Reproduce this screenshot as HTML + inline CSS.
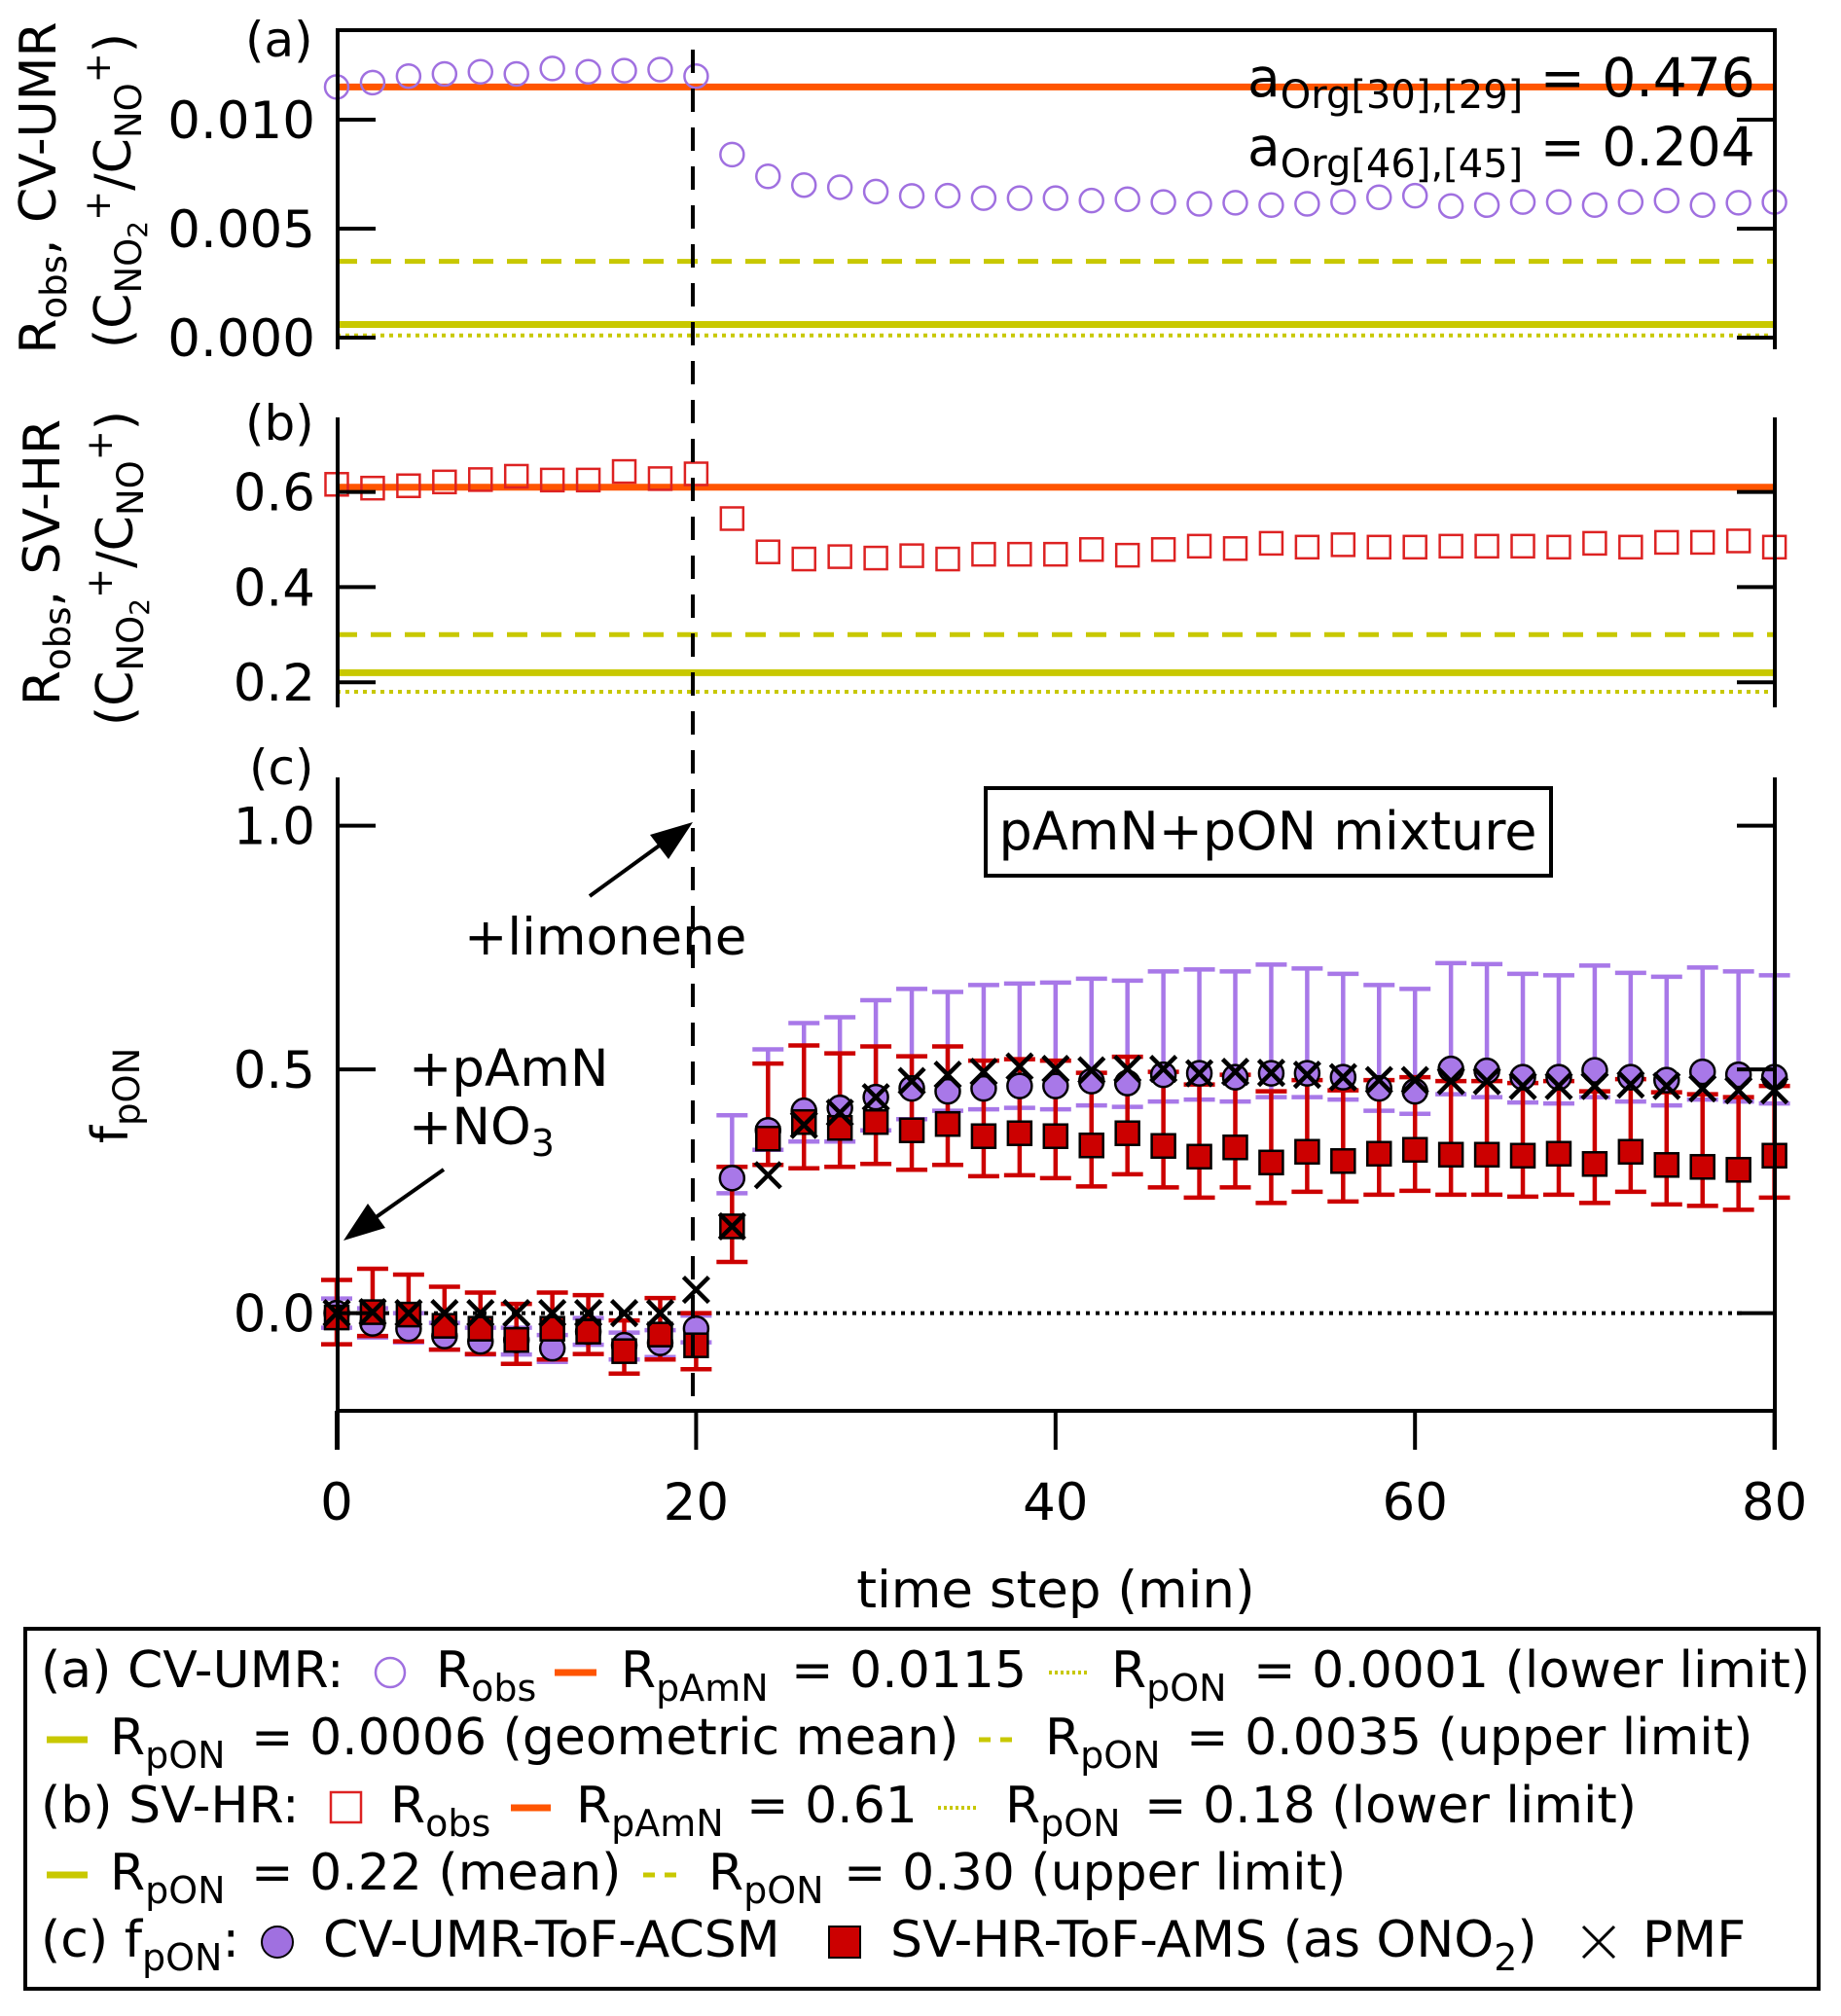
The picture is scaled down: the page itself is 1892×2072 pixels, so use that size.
<!DOCTYPE html>
<html><head><meta charset="utf-8"><style>
html,body{margin:0;padding:0;background:#fff}
svg{display:block}
text{font-family:"DejaVu Sans","Liberation Sans",sans-serif;fill:#000}
</style></head><body>
<svg id="chart" xmlns="http://www.w3.org/2000/svg" width="1892" height="2072" viewBox="0 0 1892 2072">
<rect x="0" y="0" width="1892" height="2072" fill="#fff"/>
<g id="panelA"></g>
<g id="panelB"></g>
<g id="panelC"></g>

<g stroke="#000" stroke-width="4" fill="none">
  <path d="M347 359 V31 H1824 V359"/>
  <path d="M347 429 V727"/>
  <path d="M1824 429 V727"/>
  <path d="M347 799 V1490"/>
  <path d="M1824 799 V1490"/>
  <path d="M347 1450 H1824"/>
</g>
<line x1="712" y1="51" x2="712" y2="1450" stroke="#000" stroke-width="4" stroke-dasharray="24 16"/>
<g id="ticks"></g>

<text x="252" y="58" font-size="50">(a)</text>
<text x="252" y="452" font-size="50">(b)</text>
<text x="256" y="806" font-size="50">(c)</text>

<g font-size="52">
  <text transform="translate(57,193) rotate(-90)" text-anchor="middle">R<tspan font-size="37" dy="11">obs</tspan><tspan dy="-11">,  CV-UMR</tspan></text>
  <text transform="translate(134,196) rotate(-90)" text-anchor="middle">(C<tspan font-size="37" dy="11">NO</tspan><tspan font-size="28" dy="6">2</tspan><tspan font-size="37" dy="-38">+</tspan><tspan dy="21">/C</tspan><tspan font-size="37" dy="11">NO</tspan><tspan font-size="37" dy="-32">+</tspan><tspan dy="21">)</tspan></text>
</g>
<g font-size="52">
  <text transform="translate(61,578) rotate(-90)" text-anchor="middle">R<tspan font-size="37" dy="11">obs</tspan><tspan dy="-11">,  SV-HR</tspan></text>
  <text transform="translate(136,584) rotate(-90)" text-anchor="middle">(C<tspan font-size="37" dy="11">NO</tspan><tspan font-size="28" dy="6">2</tspan><tspan font-size="37" dy="-38">+</tspan><tspan dy="21">/C</tspan><tspan font-size="37" dy="11">NO</tspan><tspan font-size="37" dy="-32">+</tspan><tspan dy="21">)</tspan></text>
</g>
<text transform="translate(131,1126) rotate(-90)" text-anchor="middle" font-size="52">f<tspan font-size="37" dy="12">pON</tspan></text>

<text x="1085" y="1652" text-anchor="middle" font-size="53">time step (min)</text>

<g>
  <text x="1282" y="99" font-size="55">a<tspan font-size="40" dy="12">Org[30],[29]</tspan><tspan dy="-12"> = 0.476</tspan></text>
  <text x="1282" y="170" font-size="55">a<tspan font-size="40" dy="12">Org[46],[45]</tspan><tspan dy="-12"> = 0.204</tspan></text>
</g>

<g>
  <rect x="1013" y="810" width="581" height="90" fill="#fff" stroke="#000" stroke-width="4"/>
  <text x="1303" y="873" text-anchor="middle" font-size="54">pAmN+pON mixture</text>
</g>

<g>
  <text x="477" y="981" font-size="53">+limonene</text>
  <line x1="606" y1="921" x2="690" y2="860" stroke="#000" stroke-width="4"/>
  <polygon points="712,845 668,858 687,883" fill="#000"/>
</g>
<g>
  <text x="420" y="1116" font-size="53">+pAmN</text>
  <text x="420" y="1176" font-size="53">+NO<tspan font-size="38" dy="12">3</tspan></text>
  <line x1="456" y1="1202" x2="375" y2="1259" stroke="#000" stroke-width="4"/>
  <polygon points="353,1275 396,1262 378,1237" fill="#000"/>
</g>

<g>
  <rect x="26" y="1674" width="1843" height="370" fill="none" stroke="#000" stroke-width="4"/>
  <g font-size="52">
    <text x="42" y="1734">(a) CV-UMR:</text>
    <circle cx="401" cy="1719" r="15" fill="none" stroke="#a070e0" stroke-width="2.5"/>
    <text x="448" y="1734">R<tspan font-size="38" dy="14">obs</tspan></text>
    <line x1="570" y1="1719" x2="613" y2="1719" stroke="#ff5500" stroke-width="7"/>
    <text x="638" y="1734">R<tspan font-size="38" dy="14">pAmN</tspan></text>
    <text x="813" y="1734">= 0.0115</text>
    <line x1="1078" y1="1719" x2="1120" y2="1719" stroke="#c8c800" stroke-width="4" stroke-dasharray="3 3"/>
    <text x="1142" y="1734">R<tspan font-size="38" dy="14">pON</tspan></text>
    <text x="1288" y="1734">= 0.0001 (lower limit)</text>

    <line x1="48" y1="1788" x2="90" y2="1788" stroke="#c8c800" stroke-width="7"/>
    <text x="113" y="1803">R<tspan font-size="38" dy="14">pON</tspan></text>
    <text x="258" y="1803">= 0.0006 (geometric mean)</text>
    <line x1="1006" y1="1788" x2="1049" y2="1788" stroke="#c8c800" stroke-width="5" stroke-dasharray="12 10"/>
    <text x="1074" y="1803">R<tspan font-size="38" dy="14">pON</tspan></text>
    <text x="1219" y="1803">= 0.0035 (upper limit)</text>

    <text x="42" y="1873">(b) SV-HR:</text>
    <rect x="340" y="1842" width="31" height="31" fill="none" stroke="#dd2222" stroke-width="2.5"/>
    <text x="401" y="1873">R<tspan font-size="38" dy="14">obs</tspan></text>
    <line x1="525" y1="1858" x2="566" y2="1858" stroke="#ff5500" stroke-width="7"/>
    <text x="592" y="1873">R<tspan font-size="38" dy="14">pAmN</tspan></text>
    <text x="767" y="1873">= 0.61</text>
    <line x1="964" y1="1858" x2="1006" y2="1858" stroke="#c8c800" stroke-width="4" stroke-dasharray="3 3"/>
    <text x="1033" y="1873">R<tspan font-size="38" dy="14">pON</tspan></text>
    <text x="1176" y="1873">= 0.18 (lower limit)</text>

    <line x1="48" y1="1927" x2="90" y2="1927" stroke="#c8c800" stroke-width="7"/>
    <text x="113" y="1942">R<tspan font-size="38" dy="14">pON</tspan></text>
    <text x="258" y="1942">= 0.22 (mean)</text>
    <line x1="661" y1="1927" x2="703" y2="1927" stroke="#c8c800" stroke-width="5" stroke-dasharray="12 10"/>
    <text x="728" y="1942">R<tspan font-size="38" dy="14">pON</tspan></text>
    <text x="867" y="1942">= 0.30 (upper limit)</text>

    <text x="42" y="2011">(c) f<tspan font-size="38" dy="14">pON</tspan><tspan dy="-14">:</tspan></text>
    <circle cx="285" cy="1996" r="16" fill="#a070e0" stroke="#000" stroke-width="2"/>
    <text x="332" y="2011">CV-UMR-ToF-ACSM</text>
    <rect x="852" y="1980" width="32" height="32" fill="#cc0000" stroke="#000" stroke-width="2"/>
    <text x="915" y="2011">SV-HR-ToF-AMS (as ONO<tspan font-size="38" dy="14">2</tspan><tspan dy="-14">)</tspan></text>
    <path d="M1627 1980 L1659 2012 M1627 2012 L1659 1980" stroke="#000" stroke-width="3" fill="none"/>
    <text x="1688" y="2011">PMF</text>
  </g>
</g>
</svg>
<script>
const times = [0,2,4,6,8,10,12,14,16,18,20,22,24,26,28,30,32,34,36,38,40,42,44,46,48,50,52,54,56,58,60,62,64,66,68,70,72,74,76,78,80];
const cvObs = [0.0115,0.0117,0.0120,0.0121,0.0122,0.0121,0.01235,0.0122,0.01225,0.0123,0.0120,0.0084,0.0074,0.0070,0.0069,0.0067,0.0065,0.00651,0.0064,0.0064,0.0064,0.00629,0.00635,0.00622,0.00614,0.00619,0.00608,0.00614,0.00622,0.00644,0.00651,0.00604,0.00608,0.00622,0.00622,0.00608,0.00622,0.00629,0.00608,0.00619,0.00622];
const svObs = [0.616,0.608,0.613,0.621,0.626,0.633,0.625,0.625,0.643,0.628,0.638,0.544,0.474,0.459,0.464,0.461,0.466,0.459,0.469,0.469,0.469,0.479,0.467,0.479,0.486,0.481,0.492,0.484,0.489,0.484,0.484,0.486,0.486,0.486,0.484,0.492,0.484,0.494,0.494,0.497,0.484];
const cvRefs = [0.0115,0.0006,0.0035,0.0001];
const svRefs = [0.61,0.22,0.30,0.18];
const cvF = [0,-0.021,-0.032,-0.047,-0.058,-0.055,-0.072,-0.038,-0.066,-0.061,-0.032,0.277,0.375,0.415,0.421,0.443,0.461,0.455,0.461,0.466,0.466,0.476,0.472,0.489,0.492,0.484,0.492,0.492,0.484,0.461,0.455,0.501,0.497,0.484,0.484,0.498,0.484,0.478,0.495,0.489,0.484];
const cvHi = [0.03,0.01,0.0,-0.02,-0.03,-0.03,-0.045,-0.01,-0.04,-0.035,-0.005,0.406,0.541,0.595,0.607,0.642,0.665,0.659,0.673,0.676,0.678,0.686,0.682,0.701,0.705,0.701,0.715,0.707,0.696,0.673,0.665,0.718,0.716,0.696,0.693,0.713,0.698,0.690,0.709,0.701,0.693];
const cvLo = [-0.03,-0.05,-0.06,-0.075,-0.085,-0.085,-0.10,-0.065,-0.095,-0.09,-0.06,0.246,0.335,0.352,0.352,0.375,0.398,0.415,0.418,0.421,0.418,0.426,0.423,0.434,0.438,0.434,0.443,0.443,0.438,0.415,0.409,0.449,0.443,0.432,0.430,0.443,0.434,0.426,0.438,0.434,0.430];
const hrF = [-0.009,0.002,-0.003,-0.026,-0.032,-0.055,-0.032,-0.038,-0.078,-0.044,-0.066,0.178,0.358,0.392,0.380,0.392,0.375,0.388,0.363,0.369,0.363,0.344,0.369,0.343,0.321,0.340,0.309,0.331,0.312,0.327,0.335,0.325,0.325,0.323,0.327,0.306,0.331,0.304,0.300,0.294,0.323];
const hrHi = [0.068,0.091,0.079,0.054,0.042,0.019,0.042,0.037,-0.015,0.031,0.0,0.300,0.512,0.549,0.533,0.547,0.527,0.547,0.518,0.521,0.518,0.493,0.526,0.495,0.469,0.489,0.455,0.478,0.457,0.478,0.484,0.476,0.476,0.472,0.476,0.455,0.480,0.453,0.449,0.443,0.466];
const hrLo = [-0.064,-0.047,-0.058,-0.075,-0.084,-0.104,-0.095,-0.084,-0.124,-0.095,-0.115,0.105,0.304,0.297,0.300,0.306,0.294,0.304,0.281,0.283,0.277,0.260,0.285,0.258,0.237,0.258,0.226,0.249,0.229,0.243,0.251,0.243,0.243,0.239,0.243,0.226,0.249,0.223,0.220,0.212,0.237];
const pmfF = [0,0.002,0,0,0,0,0,0,0,0,0.048,0.178,0.283,0.386,0.411,0.443,0.476,0.489,0.495,0.506,0.501,0.498,0.501,0.501,0.492,0.495,0.493,0.489,0.484,0.478,0.478,0.476,0.476,0.466,0.466,0.466,0.469,0.466,0.461,0.457,0.457];
const xTicks = [0,20,40,60,80];
const aTicks = [0.000,0.005,0.010];
const aTickLabels = ["0.000","0.005","0.010"];
const bTicks = [0.2,0.4,0.6];
const bTickLabels = ["0.2","0.4","0.6"];
const cTicks = [0.0,0.5,1.0];
const cTickLabels = ["0.0","0.5","1.0"];

const NS = "http://www.w3.org/2000/svg";
function xs(t){return 346 + t*18.47;}
function ya(v){return 347 - v*22400;}
function yb(v){return 505.6 - (v-0.6)*489;}
function yc(v){return 1349.6 - v*501;}
function mk(tag, parent, attrs){const e=document.createElementNS(NS,tag);for(const k in attrs)e.setAttribute(k,attrs[k]);parent.appendChild(e);return e;}

const A=document.getElementById('panelA'), B=document.getElementById('panelB'), C=document.getElementById('panelC'), T=document.getElementById('ticks');
const X0=xs(0), X1=xs(80);

const refStyles=[{c:'#ff5500',w:7,d:''},{c:'#c8c800',w:7,d:''},{c:'#c8c800',w:5,d:'21 14'},{c:'#c8c800',w:4,d:'4 5'}];
const refNames=['pamn-line','pon-mean-line','pon-upper-line','pon-lower-line'];
cvRefs.forEach((v,i)=>{
  const l=mk('line',A,{x1:X0,x2:X1,y1:ya(v),y2:ya(v),stroke:refStyles[i].c,'stroke-width':refStyles[i].w});
  if(refStyles[i].d) l.setAttribute('stroke-dasharray',refStyles[i].d);
  
  
});
svRefs.forEach((v,i)=>{
  const l=mk('line',B,{x1:X0,x2:X1,y1:yb(v),y2:yb(v),stroke:refStyles[i].c,'stroke-width':refStyles[i].w});
  if(refStyles[i].d) l.setAttribute('stroke-dasharray',refStyles[i].d);
  
  
});
times.forEach((t,i)=>{
  const c=mk('circle',A,{cx:xs(t),cy:ya(cvObs[i]),r:12,fill:'none',stroke:'#a070e0','stroke-width':2.5});
  
  
  const s=mk('rect',B,{x:xs(t)-11.5,y:yb(svObs[i])-11.5,width:23,height:23,fill:'none',stroke:'#dd2222','stroke-width':2.5});
  
  
});

const z=mk('line',C,{x1:X0,x2:X1-30,y1:yc(0),y2:yc(0),stroke:'#000','stroke-width':4,'stroke-dasharray':'4 6'});



function errBar(t,lo,hi,color,name){
  const g=mk('g',C,{stroke:color,'stroke-width':4.5});
  
  
  const x=xs(t);
  mk('line',g,{x1:x,x2:x,y1:yc(lo),y2:yc(hi)});
  mk('line',g,{x1:x-16,x2:x+16,y1:yc(lo),y2:yc(lo)});
  mk('line',g,{x1:x-16,x2:x+16,y1:yc(hi),y2:yc(hi)});
}
times.forEach((t,i)=>{ errBar(t,cvLo[i],cvHi[i],'#a878e8','cv-fpon-errorbar'); });
times.forEach((t,i)=>{ errBar(t,hrLo[i],hrHi[i],'#cc0000','hr-fpon-errorbar'); });
times.forEach((t,i)=>{
  const c=mk('circle',C,{cx:xs(t),cy:yc(cvF[i]),r:12.5,fill:'#a878e8',stroke:'#000','stroke-width':2.5});
  
  
});
times.forEach((t,i)=>{
  const s=mk('rect',C,{x:xs(t)-12,y:yc(hrF[i])-12,width:24,height:24,fill:'#cc0000',stroke:'#000','stroke-width':2.5});
  
  
});
times.forEach((t,i)=>{
  const x=xs(t), y=yc(pmfF[i]);
  const p=mk('path',C,{d:`M${x-13} ${y-13} L${x+13} ${y+13} M${x-13} ${y+13} L${x+13} ${y-13}`,stroke:'#000','stroke-width':4.5,fill:'none'});
  
  
});

function yTicks(vals,labels,fy,name){
  vals.forEach((v,i)=>{
    const y=fy(v);
    const l=mk('path',T,{d:`M347 ${y} H386 M1824 ${y} H1785`,stroke:'#000','stroke-width':4,fill:'none'});
    
    
    const tx=mk('text',T,{x:324,y:y+19,'text-anchor':'end','font-size':53});
    tx.textContent=labels[i];
    
    
  });
}
yTicks(aTicks,aTickLabels,ya,'panel-a-y');
yTicks(bTicks,bTickLabels,yb,'panel-b-y');
yTicks(cTicks,cTickLabels,yc,'panel-c-y');
xTicks.forEach(t=>{
  const x=xs(t);
  const l=mk('line',T,{x1:x,x2:x,y1:1450,y2:1490,stroke:'#000','stroke-width':4});
  
  
  const tx=mk('text',T,{x:x,y:1562,'text-anchor':'middle','font-size':53});
  tx.textContent=String(t);
  
  
});
</script>
</body></html>
